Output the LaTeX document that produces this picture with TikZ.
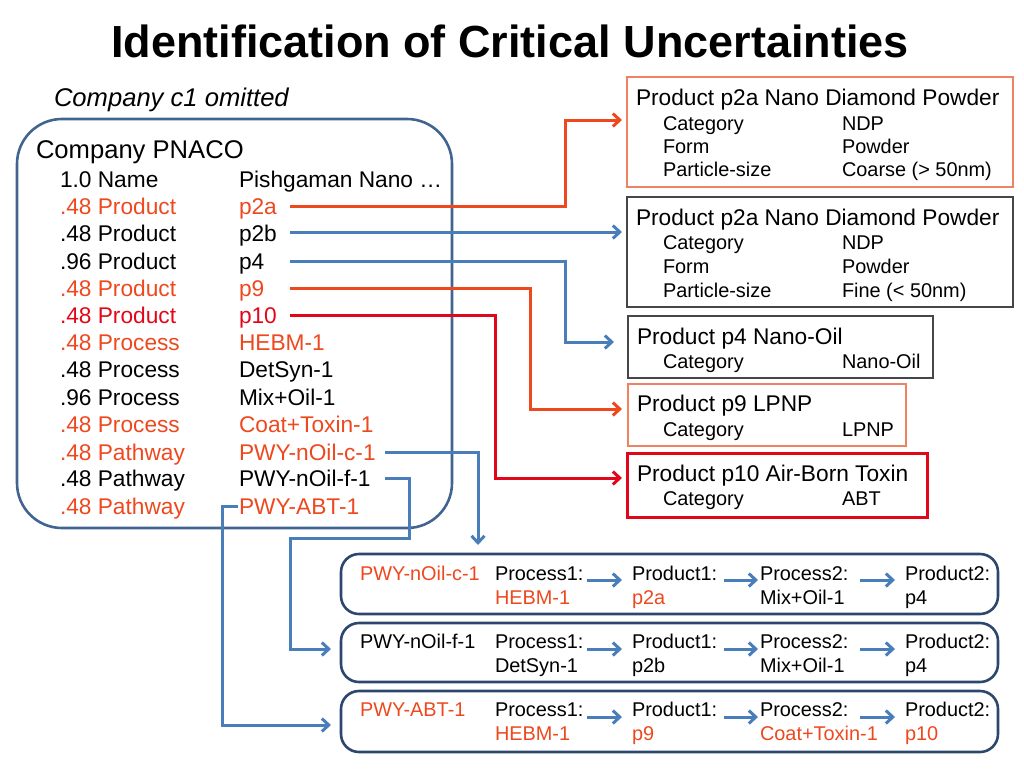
\documentclass[tikz,border=0pt]{standalone}
\usepackage{fontspec}
\setmainfont{Liberation Sans}
\usetikzlibrary{arrows.meta}
\definecolor{orC}{RGB}{238,72,30}
\definecolor{rdC}{RGB}{226,6,26}
\definecolor{blC}{RGB}{74,126,187}
\definecolor{salC}{RGB}{240,130,100}
\definecolor{gyC}{RGB}{70,70,70}
\definecolor{cbC}{RGB}{65,100,145}
\definecolor{pbC}{RGB}{44,70,110}
\begin{document}
\begin{tikzpicture}[x=1pt,y=-1pt,
  txt/.style={inner sep=0pt, outer sep=0pt, anchor=west, text depth=0pt},
  tA/.style={txt, font=\fontsize{22.7}{27}\selectfont, text height=16.25pt},
  tB/.style={txt, font=\fontsize{19.9}{24}\selectfont, text height=14.25pt},
  tC/.style={txt, font=\fontsize{25.6}{30}\selectfont, text height=18.3pt},
  boxn/.style={draw, inner sep=0pt, outer sep=0pt, anchor=north west},
  tipc/.style={-{Straight Barb[length=7pt,width=13pt]}},
  conO/.style={orC, line width=3pt, tipc, line join=miter},
  conR/.style={rdC, line width=3pt, tipc},
  conB/.style={blC, line width=3pt, tipc},
  smarr/.style={blC, line width=3pt, tipc}
]
\useasboundingbox (0,0) rectangle (1024,768);

% title
\node[txt, font=\fontsize{45}{50}\bfseries, text height=32.2pt] (title) at (111,41) {Identification of Critical Uncertainties};
\node[tC, font=\fontsize{25.6}{30}\itshape] (omit) at (54,97) {Company c1 omitted};

% company box
\node[boxn, cbC, line width=2.6pt, rounded corners=45pt, minimum width=435pt, minimum height=409pt] (cbox) at (17,119) {};
\node[tC] (cname) at (36,149) {Company PNACO};

\node[tA] (l1) at (60,179) {1.0 Name};          \node[tA] (v1) at (239,179) {Pishgaman Nano …};
\node[tA, orC] (l2) at (60,206) {.48 Product};  \node[tA, orC] (v2) at (239,206) {p2a};
\node[tA] (l3) at (60,233) {.48 Product};       \node[tA] (v3) at (239,233) {p2b};
\node[tA] (l4) at (60,261) {.96 Product};       \node[tA] (v4) at (239,261) {p4};
\node[tA, orC] (l5) at (60,288) {.48 Product};  \node[tA, orC] (v5) at (239,288) {p9};
\node[tA, rdC] (l6) at (60,315) {.48 Product};  \node[tA, rdC] (v6) at (239,315) {p10};
\node[tA, orC] (l7) at (60,342) {.48 Process};  \node[tA, orC] (v7) at (239,342) {HEBM-1};
\node[tA] (l8) at (60,369) {.48 Process};       \node[tA] (v8) at (239,369) {DetSyn-1};
\node[tA] (l9) at (60,397) {.96 Process};       \node[tA] (v9) at (239,397) {Mix+Oil-1};
\node[tA, orC] (l10) at (60,424) {.48 Process}; \node[tA, orC] (v10) at (239,424) {Coat+Toxin-1};
\node[tA, orC] (l11) at (60,452) {.48 Pathway}; \node[tA, orC] (v11) at (239,452) {PWY-nOil-c-1};
\node[tA] (l12) at (60,478) {.48 Pathway};      \node[tA] (v12) at (239,478) {PWY-nOil-f-1};
\node[tA, orC] (l13) at (60,506) {.48 Pathway}; \node[tA, orC] (v13) at (239,506) {PWY-ABT-1};

% right product boxes
\node[boxn, salC, line width=1.6pt, minimum width=386pt, minimum height=110pt] (b1) at (627,77) {};
\node[tA] (b1t) at (636,97) {Product p2a Nano Diamond Powder};
\node[tB] (b1a) at (663,123) {Category};      \node[tB] (b1av) at (842,123) {NDP};
\node[tB] (b1b) at (663,146) {Form};          \node[tB] (b1bv) at (842,146) {Powder};
\node[tB] (b1c) at (663,169) {Particle-size}; \node[tB] (b1cv) at (842,169) {Coarse (> 50nm)};

\node[boxn, gyC, line width=1.8pt, minimum width=386pt, minimum height=110pt] (b2) at (627,197) {};
\node[tA] (b2t) at (636,217) {Product p2a Nano Diamond Powder};
\node[tB] (b2a) at (663,242) {Category};      \node[tB] (b2av) at (842,242) {NDP};
\node[tB] (b2b) at (663,266) {Form};          \node[tB] (b2bv) at (842,266) {Powder};
\node[tB] (b2c) at (663,290) {Particle-size}; \node[tB] (b2cv) at (842,290) {Fine (< 50nm)};

\node[boxn, gyC, line width=1.8pt, minimum width=305pt, minimum height=62pt] (b3) at (628,316) {};
\node[tA] (b3t) at (637,336) {Product p4 Nano-Oil};
\node[tB] (b3a) at (663,361) {Category};      \node[tB] (b3av) at (842,361) {Nano-Oil};

\node[boxn, salC, line width=1.6pt, minimum width=278pt, minimum height=62pt] (b4) at (628,384) {};
\node[tA] (b4t) at (637,403) {Product p9 LPNP};
\node[tB] (b4a) at (663,429) {Category};      \node[tB] (b4av) at (842,429) {LPNP};

\node[boxn, rdC, line width=3pt, minimum width=300pt, minimum height=64pt] (b5) at (627,453) {};
\node[tA] (b5t) at (637,473) {Product p10 Air-Born Toxin};
\node[tB] (b5a) at (663,498) {Category};      \node[tB] (b5av) at (842,498) {ABT};

% pathway boxes
\node[boxn, pbC, line width=2.6pt, rounded corners=18pt, minimum width=657pt, minimum height=60pt] (pw1) at (341,554) {};
\node[boxn, pbC, line width=2.6pt, rounded corners=18pt, minimum width=657pt, minimum height=59pt] (pw2) at (341,623) {};
\node[boxn, pbC, line width=2.6pt, rounded corners=18pt, minimum width=657pt, minimum height=61pt] (pw3) at (341,691) {};

\node[tB, orC] (r1n) at (360,573) {PWY-nOil-c-1};
\node[tB] (r1a) at (495,573) {Process1:};  \node[tB, orC] (r1av) at (495,597) {HEBM-1};
\node[tB] (r1b) at (632,573) {Product1:};  \node[tB, orC] (r1bv) at (632,597) {p2a};
\node[tB] (r1c) at (760,573) {Process2:};  \node[tB] (r1cv) at (760,597) {Mix+Oil-1};
\node[tB] (r1d) at (905,573) {Product2:};  \node[tB] (r1dv) at (905,597) {p4};

\node[tB] (r2n) at (360,641) {PWY-nOil-f-1};
\node[tB] (r2a) at (495,641) {Process1:};  \node[tB] (r2av) at (495,665) {DetSyn-1};
\node[tB] (r2b) at (632,641) {Product1:};  \node[tB] (r2bv) at (632,665) {p2b};
\node[tB] (r2c) at (760,641) {Process2:};  \node[tB] (r2cv) at (760,665) {Mix+Oil-1};
\node[tB] (r2d) at (905,641) {Product2:};  \node[tB] (r2dv) at (905,665) {p4};

\node[tB, orC] (r3n) at (360,709) {PWY-ABT-1};
\node[tB] (r3a) at (495,709) {Process1:};  \node[tB, orC] (r3av) at (495,733) {HEBM-1};
\node[tB] (r3b) at (632,709) {Product1:};  \node[tB, orC] (r3bv) at (632,733) {p9};
\node[tB] (r3c) at (760,709) {Process2:};  \node[tB, orC] (r3cv) at (760,733) {Coat+Toxin-1};
\node[tB] (r3d) at (905,709) {Product2:};  \node[tB, orC] (r3dv) at (905,733) {p10};

% small arrows inside pathway boxes
\foreach \r/\dy in {1/7,2/8,3/8}{
  \draw[smarr] ([shift={(4,\dy)}]r\r a.east) -- ([shift={(-10,\dy)}]r\r b.west);
  \draw[smarr] ([shift={(7,\dy)}]r\r b.east) -- ([shift={(-2,\dy)}]r\r c.west);
  \draw[smarr] ([shift={(12,\dy)}]r\r c.east) -- ([shift={(-10,\dy)}]r\r d.west);
}

% connector start points
\coordinate (s2) at (290,206);
\coordinate (s3) at (290,232);
\coordinate (s4) at (290,261);
\coordinate (s5) at (290,288);
\coordinate (s6) at (290,315);
\coordinate (s11) at (385,452);
\coordinate (s12) at (385,478);
\coordinate (s13) at (238,506);

\draw[conO, shorten >=5pt] (s2) -- (565,206) -- (565,120) -- ([yshift=12pt]b1.west);
\draw[conB, shorten >=5pt] (s3) -- ([yshift=20pt]b2.west);
\draw[conB, shorten >=14pt] (s4) -- (565,261) -- (565,342) -- ([yshift=5pt]b3.west);
\draw[conO, shorten >=6pt] (s5) -- (530,288) -- (530,409) -- ([yshift=6pt]b4.west);
\draw[conR, shorten >=5pt] (s6) -- (495,315) -- (495,478) -- ([yshift=7pt]b5.west);
\draw[conB, shorten >=9pt] (s11) -- (478,452) -- ([xshift=-191.5pt]pw1.north);
\draw[conB, shorten >=10pt] (s12) -- (409,478) -- (409,538) -- (290,538) -- (290,649) -- ([yshift=3.5pt]pw2.west);
\draw[conB, shorten >=10pt] (s13) -- (222,506) -- (222,725) -- ([yshift=-3.5pt]pw3.west);
\end{tikzpicture}
\end{document}
